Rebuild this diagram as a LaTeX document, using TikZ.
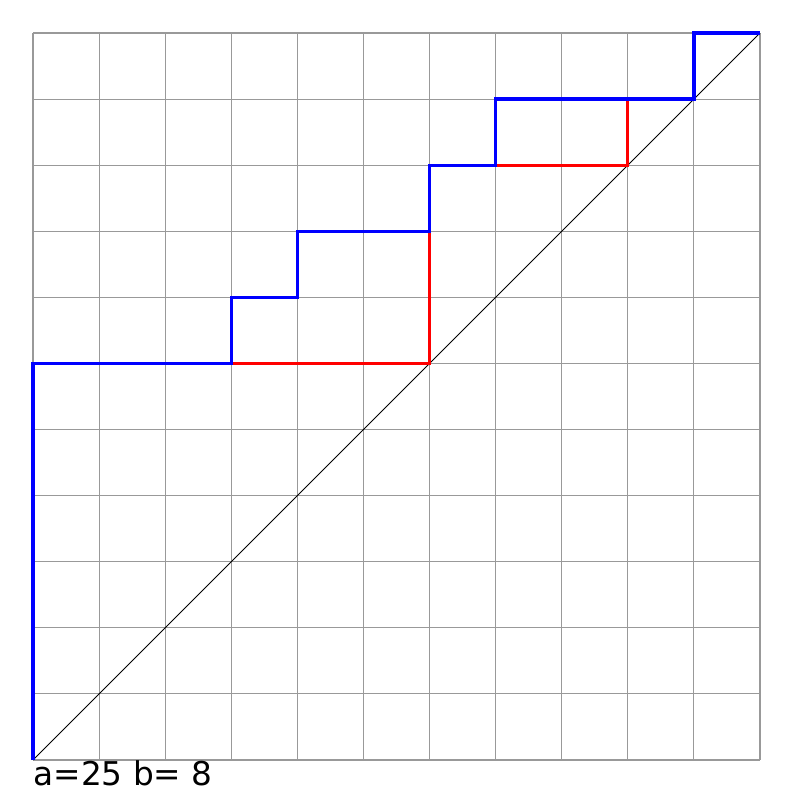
\documentclass[tikz,border=0pt]{standalone}
\usepackage{fontspec}
\setmainfont{DejaVu Sans}
\tikzset{
  gridline/.style={draw=black!40, line width=0.5pt},
  diag/.style={draw=black, line width=0.4pt},
  bluepath/.style={draw=blue, line width=1.4pt, line join=miter},
  redpath/.style={draw=red, line width=1.4pt},
  lbl/.style={anchor=base west, inner sep=0pt, font=\fontsize{14.1pt}{17pt}\selectfont}
}
\begin{document}
\begin{tikzpicture}
\useasboundingbox (-0.5,-0.5) rectangle (11.5,11.5);
\draw[gridline] (0,0) grid (11,11);
\coordinate (o) at (0,0);
\coordinate (e) at (11,11);
\draw[diag] (o) -- (e);
\draw[redpath] (3,6) -- (6,6) -- (6,8);
\draw[redpath] (7,9) -- (9,9) -- (9,10);
\draw[bluepath] (o) -- (0,6) -- (3,6) -- (3,7) -- (4,7) -- (4,8) -- (6,8) -- (6,9) -- (7,9) -- (7,10) -- (10,10) -- (10,11) -- (e);
\node[lbl] (t) at (0,-0.38) {a=25 b= 8};
\end{tikzpicture}
\end{document}
